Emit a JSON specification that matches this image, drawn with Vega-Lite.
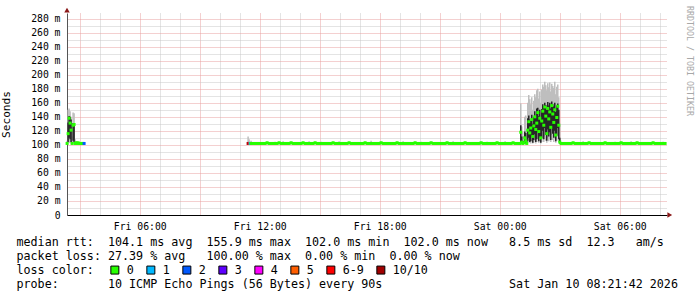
{
"$schema": "https://vega.github.io/schema/vega-lite/v6.json",
"width": 600, "height": 202,
"autosize": "none",
"padding": {"left": 67, "top": 13, "right": 30, "bottom": 82},
"background": "white",
"config": {"view": {"stroke": null}},
"title": {"text": "RRDTOOL / TOBI OETIKER", "orient": "right", "anchor": "start", "angle": 90, "offset": 8, "dx": -7, "font": "DejaVu Sans Mono", "fontSize": 8.3, "fontWeight": "normal", "color": "#a8a8a8", "frame": "group"},
"data": {"values": [
{"t":"2026-01-09T02:22","m":102,"l":"0","a":102,"b":106},
{"t":"2026-01-09T02:25","m":116,"l":"0","a":102,"b":150,"c":104,"d":132},
{"t":"2026-01-09T02:28","m":138,"l":"0","a":103,"b":152,"c":110,"d":141},
{"t":"2026-01-09T02:31","m":131,"l":"0","a":103,"b":148,"c":108,"d":140},
{"t":"2026-01-09T02:34","m":121,"l":"0","a":102,"b":140,"c":104,"d":136},
{"t":"2026-01-09T02:37","m":102,"l":"0","a":102,"b":112,"c":102,"d":104},
{"t":"2026-01-09T02:40","m":128,"l":"0","a":102,"b":146,"c":106,"d":131},
{"t":"2026-01-09T02:43","m":129,"l":"0","a":102,"b":145,"c":104,"d":130},
{"t":"2026-01-09T02:46","m":102,"l":"0","a":102,"b":108},
{"t":"2026-01-09T02:49","m":103,"l":"0","a":102,"b":105},
{"t":"2026-01-09T02:52","m":102,"l":"0"},
{"t":"2026-01-09T02:55","m":103,"l":"0","a":102,"b":104},
{"t":"2026-01-09T02:58","m":102,"l":"0"},
{"t":"2026-01-09T03:01","m":102,"l":"0","a":102,"b":104},
{"t":"2026-01-09T03:04","m":102,"l":"0"},
{"t":"2026-01-09T03:07","m":102,"l":"0"},
{"t":"2026-01-09T03:10","m":102,"l":"0"},
{"t":"2026-01-09T03:13","m":102,"l":"2"},
{"t":"2026-01-09T11:25","m":102,"l":"10/10","a":102,"b":112},
{"t":"2026-01-09T11:28","m":102,"l":"6-9","a":102,"b":108},
{"t":"2026-01-09T11:31","m":102,"l":"1"},
{"t":"2026-01-09T11:34","m":102,"l":"0","a":102,"b":106},
{"t":"2026-01-09T11:40","m":102,"l":"0"},
{"t":"2026-01-09T11:46","m":102,"l":"0"},
{"t":"2026-01-09T11:52","m":102,"l":"0"},
{"t":"2026-01-09T11:58","m":102,"l":"0"},
{"t":"2026-01-09T12:04","m":102,"l":"0"},
{"t":"2026-01-09T12:10","m":102,"l":"0"},
{"t":"2026-01-09T12:16","m":102,"l":"0"},
{"t":"2026-01-09T12:22","m":103,"l":"0"},
{"t":"2026-01-09T12:28","m":102,"l":"0"},
{"t":"2026-01-09T12:34","m":102,"l":"0"},
{"t":"2026-01-09T12:40","m":102,"l":"0"},
{"t":"2026-01-09T12:46","m":102,"l":"0","a":102,"b":104.5},
{"t":"2026-01-09T12:52","m":102,"l":"0"},
{"t":"2026-01-09T12:58","m":103,"l":"0"},
{"t":"2026-01-09T13:04","m":102,"l":"0"},
{"t":"2026-01-09T13:10","m":102,"l":"0","a":102,"b":105},
{"t":"2026-01-09T13:16","m":102,"l":"0"},
{"t":"2026-01-09T13:22","m":102,"l":"0"},
{"t":"2026-01-09T13:28","m":102,"l":"0"},
{"t":"2026-01-09T13:34","m":103,"l":"0"},
{"t":"2026-01-09T13:40","m":102,"l":"0"},
{"t":"2026-01-09T13:46","m":102,"l":"0"},
{"t":"2026-01-09T13:52","m":102,"l":"0","a":102,"b":104},
{"t":"2026-01-09T13:58","m":102,"l":"0"},
{"t":"2026-01-09T14:04","m":102,"l":"0"},
{"t":"2026-01-09T14:10","m":103,"l":"0"},
{"t":"2026-01-09T14:16","m":102,"l":"0"},
{"t":"2026-01-09T14:22","m":102,"l":"0"},
{"t":"2026-01-09T14:28","m":102,"l":"0","a":102,"b":105},
{"t":"2026-01-09T14:34","m":102,"l":"0"},
{"t":"2026-01-09T14:40","m":102,"l":"0"},
{"t":"2026-01-09T14:46","m":103,"l":"0"},
{"t":"2026-01-09T14:52","m":102,"l":"0"},
{"t":"2026-01-09T14:58","m":102,"l":"0"},
{"t":"2026-01-09T15:04","m":102,"l":"0","a":102,"b":104.5},
{"t":"2026-01-09T15:10","m":102,"l":"0"},
{"t":"2026-01-09T15:16","m":102,"l":"0"},
{"t":"2026-01-09T15:22","m":102,"l":"0"},
{"t":"2026-01-09T15:28","m":102,"l":"0"},
{"t":"2026-01-09T15:34","m":102,"l":"0"},
{"t":"2026-01-09T15:40","m":103,"l":"0"},
{"t":"2026-01-09T15:46","m":102,"l":"0"},
{"t":"2026-01-09T15:52","m":102,"l":"0"},
{"t":"2026-01-09T15:58","m":102,"l":"0","a":102,"b":105},
{"t":"2026-01-09T16:04","m":102,"l":"0"},
{"t":"2026-01-09T16:10","m":102,"l":"0"},
{"t":"2026-01-09T16:16","m":102,"l":"0"},
{"t":"2026-01-09T16:22","m":102,"l":"0"},
{"t":"2026-01-09T16:28","m":103,"l":"0"},
{"t":"2026-01-09T16:34","m":102,"l":"0"},
{"t":"2026-01-09T16:40","m":102,"l":"0"},
{"t":"2026-01-09T16:46","m":102,"l":"0","a":102,"b":104},
{"t":"2026-01-09T16:52","m":102,"l":"0"},
{"t":"2026-01-09T16:58","m":102,"l":"0"},
{"t":"2026-01-09T17:04","m":102,"l":"0"},
{"t":"2026-01-09T17:10","m":102,"l":"0"},
{"t":"2026-01-09T17:16","m":103,"l":"0"},
{"t":"2026-01-09T17:22","m":102,"l":"0"},
{"t":"2026-01-09T17:28","m":102,"l":"0"},
{"t":"2026-01-09T17:34","m":102,"l":"0","a":102,"b":106},
{"t":"2026-01-09T17:40","m":102,"l":"0"},
{"t":"2026-01-09T17:46","m":102,"l":"0"},
{"t":"2026-01-09T17:52","m":102,"l":"0"},
{"t":"2026-01-09T17:58","m":102,"l":"0"},
{"t":"2026-01-09T18:04","m":103,"l":"0"},
{"t":"2026-01-09T18:10","m":102,"l":"0"},
{"t":"2026-01-09T18:16","m":102,"l":"0"},
{"t":"2026-01-09T18:22","m":102,"l":"0","a":102,"b":104},
{"t":"2026-01-09T18:28","m":102,"l":"0"},
{"t":"2026-01-09T18:34","m":102,"l":"0"},
{"t":"2026-01-09T18:40","m":102,"l":"0"},
{"t":"2026-01-09T18:46","m":102,"l":"0"},
{"t":"2026-01-09T18:52","m":103,"l":"0"},
{"t":"2026-01-09T18:58","m":102,"l":"0"},
{"t":"2026-01-09T19:04","m":102,"l":"0"},
{"t":"2026-01-09T19:10","m":102,"l":"0","a":102,"b":105},
{"t":"2026-01-09T19:16","m":102,"l":"0"},
{"t":"2026-01-09T19:22","m":102,"l":"0"},
{"t":"2026-01-09T19:28","m":102,"l":"0"},
{"t":"2026-01-09T19:34","m":102,"l":"0"},
{"t":"2026-01-09T19:40","m":102,"l":"0"},
{"t":"2026-01-09T19:46","m":103,"l":"0"},
{"t":"2026-01-09T19:52","m":102,"l":"0"},
{"t":"2026-01-09T19:58","m":102,"l":"0"},
{"t":"2026-01-09T20:04","m":102,"l":"0","a":102,"b":104.5},
{"t":"2026-01-09T20:10","m":102,"l":"0"},
{"t":"2026-01-09T20:16","m":102,"l":"0"},
{"t":"2026-01-09T20:22","m":102,"l":"0"},
{"t":"2026-01-09T20:28","m":102,"l":"0"},
{"t":"2026-01-09T20:34","m":103,"l":"0"},
{"t":"2026-01-09T20:40","m":102,"l":"0"},
{"t":"2026-01-09T20:46","m":102,"l":"0"},
{"t":"2026-01-09T20:52","m":102,"l":"0","a":102,"b":104},
{"t":"2026-01-09T20:58","m":102,"l":"0"},
{"t":"2026-01-09T21:04","m":102,"l":"0"},
{"t":"2026-01-09T21:10","m":102,"l":"0"},
{"t":"2026-01-09T21:16","m":102,"l":"0"},
{"t":"2026-01-09T21:22","m":103,"l":"0"},
{"t":"2026-01-09T21:28","m":102,"l":"0"},
{"t":"2026-01-09T21:34","m":102,"l":"0"},
{"t":"2026-01-09T21:40","m":102,"l":"0","a":102,"b":105},
{"t":"2026-01-09T21:46","m":102,"l":"0"},
{"t":"2026-01-09T21:52","m":102,"l":"0"},
{"t":"2026-01-09T21:58","m":102,"l":"0"},
{"t":"2026-01-09T22:04","m":102,"l":"0"},
{"t":"2026-01-09T22:10","m":102,"l":"0"},
{"t":"2026-01-09T22:16","m":103,"l":"0"},
{"t":"2026-01-09T22:22","m":102,"l":"0"},
{"t":"2026-01-09T22:28","m":102,"l":"0"},
{"t":"2026-01-09T22:34","m":102,"l":"0","a":102,"b":104},
{"t":"2026-01-09T22:40","m":102,"l":"0"},
{"t":"2026-01-09T22:46","m":102,"l":"0"},
{"t":"2026-01-09T22:52","m":102,"l":"0"},
{"t":"2026-01-09T22:58","m":102,"l":"0"},
{"t":"2026-01-09T23:04","m":103,"l":"0"},
{"t":"2026-01-09T23:10","m":102,"l":"0"},
{"t":"2026-01-09T23:16","m":102,"l":"0"},
{"t":"2026-01-09T23:22","m":102,"l":"0","a":102,"b":104.5},
{"t":"2026-01-09T23:28","m":102,"l":"0"},
{"t":"2026-01-09T23:34","m":102,"l":"0"},
{"t":"2026-01-09T23:40","m":102,"l":"0"},
{"t":"2026-01-09T23:46","m":102,"l":"0"},
{"t":"2026-01-09T23:52","m":103,"l":"0"},
{"t":"2026-01-09T23:58","m":102,"l":"0"},
{"t":"2026-01-10T00:04","m":102,"l":"0"},
{"t":"2026-01-10T00:10","m":102,"l":"0"},
{"t":"2026-01-10T00:16","m":102,"l":"0","a":102,"b":105},
{"t":"2026-01-10T00:22","m":102,"l":"0"},
{"t":"2026-01-10T00:28","m":102,"l":"0"},
{"t":"2026-01-10T00:34","m":102,"l":"0"},
{"t":"2026-01-10T00:40","m":103,"l":"0"},
{"t":"2026-01-10T00:46","m":102,"l":"0"},
{"t":"2026-01-10T00:52","m":102,"l":"0"},
{"t":"2026-01-10T00:58","m":102,"l":"0"},
{"t":"2026-01-10T01:00","m":102,"l":"0","a":102,"b":104,"c":102,"d":103},
{"t":"2026-01-10T01:03","m":118,"l":"0","a":102,"b":159,"c":104,"d":128},
{"t":"2026-01-10T01:06","m":104,"l":"0","a":102,"b":126,"c":102,"d":112},
{"t":"2026-01-10T01:09","m":102,"l":"0","a":102,"b":118,"c":102,"d":106},
{"t":"2026-01-10T01:12","m":103,"l":"0","a":102,"b":112,"c":102,"d":105},
{"t":"2026-01-10T01:15","m":110,"l":"0","a":102,"b":140,"c":103,"d":119},
{"t":"2026-01-10T01:18","m":106,"l":"0","a":102,"b":142,"c":102,"d":117},
{"t":"2026-01-10T01:21","m":102,"l":"0","a":102,"b":120,"c":102,"d":108},
{"t":"2026-01-10T01:24","m":121,"l":"0","a":103,"b":160,"c":106,"d":138},
{"t":"2026-01-10T01:27","m":133,"l":"0","a":104,"b":171,"c":110,"d":142},
{"t":"2026-01-10T01:30","m":117,"l":"0","a":103,"b":165,"c":104,"d":136},
{"t":"2026-01-10T01:33","m":124,"l":"0","a":102,"b":158,"c":105,"d":134},
{"t":"2026-01-10T01:36","m":136,"l":"0","a":105,"b":168,"c":112,"d":143},
{"t":"2026-01-10T01:39","m":112,"l":"0","a":102,"b":150,"c":103,"d":130},
{"t":"2026-01-10T01:42","m":127,"l":"0","a":103,"b":163,"c":107,"d":140},
{"t":"2026-01-10T01:45","m":140,"l":"0","a":106,"b":172,"c":115,"d":148},
{"t":"2026-01-10T01:48","m":122,"l":"0","a":102,"b":168,"c":104,"d":139},
{"t":"2026-01-10T01:51","m":131,"l":"0","a":104,"b":178,"c":108,"d":152},
{"t":"2026-01-10T01:54","m":146,"l":"0","a":108,"b":180,"c":118,"d":153},
{"t":"2026-01-10T01:57","m":119,"l":"0","a":103,"b":166,"c":105,"d":141},
{"t":"2026-01-10T02:00","m":138,"l":"0","a":105,"b":176,"c":110,"d":150},
{"t":"2026-01-10T02:03","m":110,"l":"0","a":102,"b":160,"c":103,"d":134},
{"t":"2026-01-10T02:06","m":134,"l":"0","a":104,"b":179,"c":109,"d":151},
{"t":"2026-01-10T02:09","m":148,"l":"0","a":110,"b":186,"c":120,"d":158},
{"t":"2026-01-10T02:12","m":128,"l":"0","a":104,"b":183,"c":108,"d":155},
{"t":"2026-01-10T02:15","m":154,"l":"0","a":112,"b":190,"c":124,"d":160},
{"t":"2026-01-10T02:18","m":141,"l":"0","a":106,"b":185,"c":114,"d":157},
{"t":"2026-01-10T02:21","m":116,"l":"0","a":103,"b":178,"c":106,"d":150},
{"t":"2026-01-10T02:24","m":152,"l":"0","a":110,"b":188,"c":122,"d":161},
{"t":"2026-01-10T02:27","m":137,"l":"0","a":105,"b":182,"c":112,"d":156},
{"t":"2026-01-10T02:30","m":147,"l":"0","a":108,"b":189,"c":118,"d":160},
{"t":"2026-01-10T02:33","m":125,"l":"0","a":104,"b":176,"c":107,"d":152},
{"t":"2026-01-10T02:36","m":156,"l":"0","a":114,"b":187,"c":126,"d":162},
{"t":"2026-01-10T02:39","m":144,"l":"0","a":107,"b":184,"c":116,"d":158},
{"t":"2026-01-10T02:42","m":132,"l":"0","a":104,"b":181,"c":110,"d":155},
{"t":"2026-01-10T02:45","m":150,"l":"0","a":109,"b":190,"c":120,"d":160},
{"t":"2026-01-10T02:48","m":114,"l":"0","a":103,"b":172,"c":105,"d":147},
{"t":"2026-01-10T02:51","m":139,"l":"0","a":106,"b":183,"c":113,"d":156},
{"t":"2026-01-10T02:54","m":155,"l":"0","a":112,"b":186,"c":124,"d":159},
{"t":"2026-01-10T02:57","m":128,"l":"0","a":104,"b":168,"c":108,"d":150},
{"t":"2026-01-10T03:00","m":104,"l":"0","a":102,"b":130,"c":102,"d":110},
{"t":"2026-01-10T03:04","m":102,"l":"0"},
{"t":"2026-01-10T03:10","m":102,"l":"0"},
{"t":"2026-01-10T03:16","m":102,"l":"0"},
{"t":"2026-01-10T03:22","m":102,"l":"0","a":102,"b":104},
{"t":"2026-01-10T03:28","m":102,"l":"0"},
{"t":"2026-01-10T03:34","m":102,"l":"0"},
{"t":"2026-01-10T03:40","m":103,"l":"0"},
{"t":"2026-01-10T03:46","m":102,"l":"0"},
{"t":"2026-01-10T03:52","m":102,"l":"0"},
{"t":"2026-01-10T03:58","m":102,"l":"0"},
{"t":"2026-01-10T04:04","m":102,"l":"0"},
{"t":"2026-01-10T04:10","m":102,"l":"0","a":102,"b":105},
{"t":"2026-01-10T04:16","m":102,"l":"0"},
{"t":"2026-01-10T04:22","m":102,"l":"0"},
{"t":"2026-01-10T04:28","m":103,"l":"0"},
{"t":"2026-01-10T04:34","m":102,"l":"0"},
{"t":"2026-01-10T04:40","m":102,"l":"0"},
{"t":"2026-01-10T04:46","m":102,"l":"0"},
{"t":"2026-01-10T04:52","m":102,"l":"0"},
{"t":"2026-01-10T04:58","m":102,"l":"0","a":102,"b":104},
{"t":"2026-01-10T05:04","m":102,"l":"0"},
{"t":"2026-01-10T05:10","m":102,"l":"0"},
{"t":"2026-01-10T05:16","m":103,"l":"0"},
{"t":"2026-01-10T05:22","m":102,"l":"0"},
{"t":"2026-01-10T05:28","m":102,"l":"0"},
{"t":"2026-01-10T05:34","m":102,"l":"0"},
{"t":"2026-01-10T05:40","m":102,"l":"0"},
{"t":"2026-01-10T05:46","m":102,"l":"0","a":102,"b":104.5},
{"t":"2026-01-10T05:52","m":102,"l":"0"},
{"t":"2026-01-10T05:58","m":102,"l":"0"},
{"t":"2026-01-10T06:04","m":103,"l":"0"},
{"t":"2026-01-10T06:10","m":102,"l":"0"},
{"t":"2026-01-10T06:16","m":102,"l":"0"},
{"t":"2026-01-10T06:22","m":102,"l":"0"},
{"t":"2026-01-10T06:28","m":102,"l":"0"},
{"t":"2026-01-10T06:34","m":102,"l":"0","a":102,"b":105},
{"t":"2026-01-10T06:40","m":102,"l":"0"},
{"t":"2026-01-10T06:46","m":102,"l":"0"},
{"t":"2026-01-10T06:52","m":103,"l":"0"},
{"t":"2026-01-10T06:58","m":102,"l":"0"},
{"t":"2026-01-10T07:04","m":102,"l":"0"},
{"t":"2026-01-10T07:10","m":102,"l":"0"},
{"t":"2026-01-10T07:16","m":102,"l":"0"},
{"t":"2026-01-10T07:22","m":102,"l":"0","a":102,"b":104},
{"t":"2026-01-10T07:28","m":102,"l":"0"},
{"t":"2026-01-10T07:34","m":102,"l":"0"},
{"t":"2026-01-10T07:40","m":103,"l":"0"},
{"t":"2026-01-10T07:46","m":102,"l":"0"},
{"t":"2026-01-10T07:52","m":102,"l":"0"},
{"t":"2026-01-10T07:58","m":102,"l":"0"},
{"t":"2026-01-10T08:04","m":102,"l":"0"},
{"t":"2026-01-10T08:10","m":102,"l":"0","a":102,"b":104.5},
{"t":"2026-01-10T08:16","m":102,"l":"0"}
]},
"layer": [
{
"mark": {"type": "rule", "color": "#bdbdbd", "strokeWidth": 1.5},
"encoding": {
"x": {"field": "t", "type": "temporal",
"scale": {"domain": [{"year":2026,"month":1,"date":9,"hours":2,"minutes":21,"seconds":42},{"year":2026,"month":1,"date":10,"hours":8,"minutes":21,"seconds":42}], "nice": false},
"axis": {"orient": "bottom", "grid": true, "gridDash": [1,1], "gridColor": {"condition": {"test": "hours(datum.value) % 3 == 0", "value": "#e8a0a0"}, "value": "#c8c8c8"},
"tickCount": 100,
"values": [
{"year":2026,"month":1,"date":9,"hours":3},{"year":2026,"month":1,"date":9,"hours":4},{"year":2026,"month":1,"date":9,"hours":5},{"year":2026,"month":1,"date":9,"hours":6},{"year":2026,"month":1,"date":9,"hours":7},{"year":2026,"month":1,"date":9,"hours":8},{"year":2026,"month":1,"date":9,"hours":9},{"year":2026,"month":1,"date":9,"hours":10},{"year":2026,"month":1,"date":9,"hours":11},{"year":2026,"month":1,"date":9,"hours":12},{"year":2026,"month":1,"date":9,"hours":13},{"year":2026,"month":1,"date":9,"hours":14},{"year":2026,"month":1,"date":9,"hours":15},{"year":2026,"month":1,"date":9,"hours":16},{"year":2026,"month":1,"date":9,"hours":17},{"year":2026,"month":1,"date":9,"hours":18},{"year":2026,"month":1,"date":9,"hours":19},{"year":2026,"month":1,"date":9,"hours":20},{"year":2026,"month":1,"date":9,"hours":21},{"year":2026,"month":1,"date":9,"hours":22},{"year":2026,"month":1,"date":9,"hours":23},{"year":2026,"month":1,"date":10,"hours":0},{"year":2026,"month":1,"date":10,"hours":1},{"year":2026,"month":1,"date":10,"hours":2},{"year":2026,"month":1,"date":10,"hours":3},{"year":2026,"month":1,"date":10,"hours":4},{"year":2026,"month":1,"date":10,"hours":5},{"year":2026,"month":1,"date":10,"hours":6},{"year":2026,"month":1,"date":10,"hours":7},{"year":2026,"month":1,"date":10,"hours":8}],
"domain": true, "domainColor": "#000000", "ticks": false, "labelPadding": 6,
"labelExpr": "hours(datum.value) % 6 == 0 ? timeFormat(datum.value, '%a %H:%M') : ''",
"labelFont": "DejaVu Sans Mono", "labelFontSize": 9.75, "labelColor": "#000000", "labelFlush": false, "labelOverlap": false,
"title": ["median rtt:\u00a0\u00a0104.1 ms avg\u00a0\u00a0155.9 ms max\u00a0\u00a0102.0 ms min\u00a0\u00a0102.0 ms now\u00a0\u00a0\u00a08.5 ms sd\u00a0\u00a012.3\u00a0\u00a0\u00a0am/s", "packet loss: 27.39 % avg\u00a0\u00a0\u00a0100.00 % max\u00a0\u00a00.00 % min\u00a0\u00a00.00 % now", "loss color:", "probe:\u00a0\u00a0\u00a0\u00a0\u00a0\u00a0\u00a010 ICMP Echo Pings (56 Bytes) every 90s\u00a0\u00a0\u00a0\u00a0\u00a0\u00a0\u00a0\u00a0\u00a0\u00a0\u00a0\u00a0\u00a0\u00a0\u00a0\u00a0\u00a0\u00a0Sat Jan 10 08:21:42 2026"],
"titleX": -51, "titleY": 21, "titleAlign": "left", "titleLineHeight": 14, "titleFont": "DejaVu Sans Mono", "titleFontSize": 11.7, "titleFontWeight": "normal", "titleColor": "#000000"}},
"y": {"field": "a", "type": "quantitative", "scale": {"domain": [0, 288], "nice": false, "zero": false},
"axis": {"orient": "left", "grid": true, "gridDash": [1,1], "gridColor": {"condition": {"test": "datum.value % 20 == 0", "value": "#e8a0a0"}, "value": "#c8c8c8"},
"tickCount": 100,
"values": [0,10,20,30,40,50,60,70,80,90,100,110,120,130,140,150,160,170,180,190,200,210,220,230,240,250,260,270,280],
"domain": true, "domainColor": "#555555", "ticks": false, "labelPadding": 7,
"labelExpr": "datum.value % 20 != 0 ? '' : (datum.value == 0 ? '0' : datum.value + ' m')",
"labelFont": "DejaVu Sans Mono", "labelFontSize": 9.75, "labelColor": "#000000", "labelOverlap": false,
"title": "Seconds", "titleX": -56, "titleY": 101, "titleAngle": -90, "titleAlign": "center", "titleFont": "DejaVu Sans Mono", "titleFontSize": 11.1, "titleFontWeight": "normal", "titleColor": "#000000"}},
"y2": {"field": "b"}
}
},
{
"mark": {"type": "rule", "color": "#262626", "strokeWidth": 1.5},
"encoding": {
"x": {"field": "t", "type": "temporal"},
"y": {"field": "c", "type": "quantitative"},
"y2": {"field": "d"}
}
},
{
"mark": {"type": "point", "shape": "square", "filled": true, "size": 9, "opacity": 1, "strokeWidth": 0},
"encoding": {
"x": {"field": "t", "type": "temporal"},
"y": {"field": "m", "type": "quantitative"},
"color": {"field": "l", "type": "nominal",
"scale": {"domain": ["0","1","2","3","4","5","6-9","10/10"], "range": ["#26ff00","#00b8ff","#0059ff","#5e00ff","#ff00ff","#ff5e00","#ff0000","#a10000"]},
"legend": {"orient": "none", "legendX": 42, "legendY": 251, "direction": "horizontal", "title": null, "labelFont": "DejaVu Sans Mono", "labelFontSize": 11.7, "labelColor": "#000000", "labelOffset": 6, "columnPadding": 10, "symbolType": "square", "symbolSize": 64, "symbolStrokeColor": "#000000", "symbolStrokeWidth": 1}}
}
},
{
"data": {"values": [{}]},
"mark": {"type": "point", "shape": "triangle-up", "filled": true, "color": "#8b1a1a", "size": 30, "opacity": 1},
"encoding": {
"x": {"datum": {"year":2026,"month":1,"date":9,"hours":2,"minutes":21,"seconds":42}, "type": "temporal"},
"y": {"datum": 292, "type": "quantitative"}
}
},
{
"data": {"values": [{}]},
"mark": {"type": "point", "shape": "triangle-right", "filled": true, "color": "#8b1a1a", "size": 30, "opacity": 1},
"encoding": {
"x": {"datum": {"year":2026,"month":1,"date":10,"hours":8,"minutes":30}, "type": "temporal"},
"y": {"datum": 0, "type": "quantitative"}
}
}
]
}
